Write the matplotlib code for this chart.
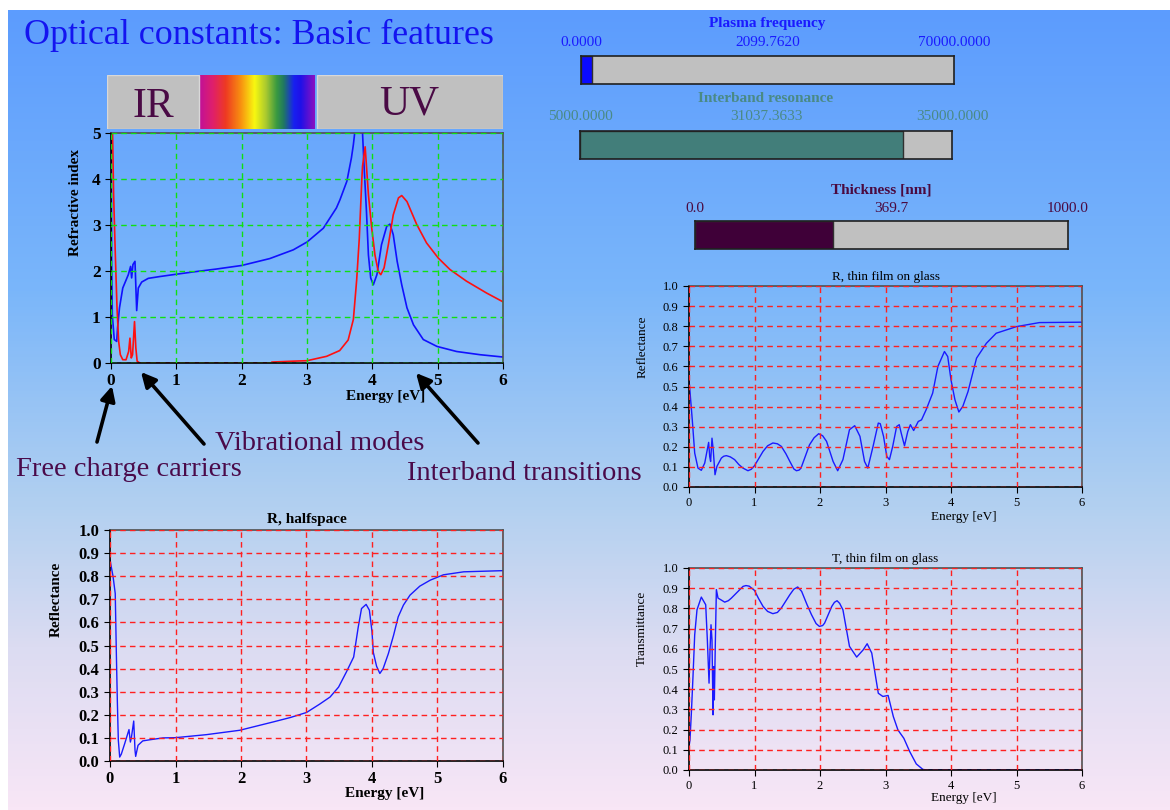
import numpy as np
import matplotlib
matplotlib.use('Agg')
import matplotlib.pyplot as plt
from matplotlib.colors import LinearSegmentedColormap
from matplotlib.ticker import FormatStrFormatter

plt.rcParams['font.family'] = ['Liberation Serif', 'DejaVu Serif']

# ---- data ----
# refractive index n (blue) and extinction k (red) vs energy [eV]
n_energy = [0.0, 0.01, 0.02, 0.05, 0.087, 0.1, 0.13, 0.18, 0.265, 0.30, 0.316, 0.336, 0.367,
            0.393, 0.418, 0.47, 0.57, 0.75, 1.0, 1.26, 1.6, 2.0, 2.43, 2.79, 3.0, 3.25, 3.45,
            3.505, 3.61, 3.68, 3.71, 3.73, 3.79, 3.85, 3.87, 3.91, 3.94, 3.975, 4.015, 4.07,
            4.14, 4.22, 4.27, 4.32, 4.38, 4.45, 4.53, 4.63, 4.78, 4.99, 5.29, 5.65, 6.0]
n_value = [6.0, 2.2, 1.05, 0.51, 0.47, 0.76, 1.2, 1.63, 1.92, 2.1, 1.85, 2.14, 2.21,
           1.14, 1.63, 1.76, 1.84, 1.88, 1.93, 1.98, 2.04, 2.12, 2.27, 2.46, 2.63, 2.93, 3.37,
           3.55, 3.95, 4.46, 4.75, 5.0, 5.6, 5.0, 4.38, 3.30, 2.35, 1.85, 1.70, 1.92,
           2.57, 2.97, 3.02, 2.79, 2.21, 1.70, 1.20, 0.83, 0.51, 0.36, 0.25, 0.18, 0.13]
k_energy = [0.012, 0.04, 0.066, 0.092, 0.117, 0.143, 0.18, 0.23, 0.27, 0.29, 0.31, 0.33, 0.36,
            0.38, 0.40, 0.44, 1.0, 2.0, 2.45, 2.46, 2.79, 3.0, 3.30, 3.5, 3.63, 3.71, 3.76,
            3.80, 3.84, 3.85, 3.89, 3.94, 3.99, 4.04, 4.09, 4.13, 4.18, 4.245, 4.32, 4.40,
            4.45, 4.53, 4.68, 4.83, 5.01, 5.19, 5.44, 5.75, 6.0]
k_value = [6.0, 3.66, 2.36, 1.2, 0.47, 0.18, 0.072, 0.07, 0.25, 0.54, 0.11, 0.18, 0.9,
           0.33, 0.04, 0.0, 0.0, 0.0, 0.0, 0.02, 0.04, 0.05, 0.145, 0.27, 0.5, 0.95, 1.8,
           2.7, 4.02, 4.28, 4.7, 3.66, 2.94, 2.35, 1.99, 1.92, 2.07, 2.57, 3.22, 3.59,
           3.64, 3.51, 3.01, 2.61, 2.28, 2.03, 1.78, 1.52, 1.33]

# R, halfspace
rh_energy = [0.0, 0.046, 0.08, 0.097, 0.112, 0.127, 0.148, 0.173, 0.224, 0.29, 0.311, 0.326,
             0.362, 0.382, 0.392, 0.428, 0.5, 0.61, 0.81, 1.0, 1.47, 1.98, 2.49, 2.75, 3.0,
             3.2, 3.36, 3.49, 3.61, 3.72, 3.79, 3.84, 3.91, 3.96, 4.0, 4.02, 4.07, 4.12,
             4.17, 4.25, 4.33, 4.40, 4.48, 4.58, 4.73, 4.89, 5.09, 5.4, 6.0]
rh_value = [0.87, 0.80, 0.725, 0.465, 0.26, 0.09, 0.017, 0.03, 0.075, 0.136, 0.082, 0.10,
            0.173, 0.046, 0.02, 0.068, 0.087, 0.092, 0.10, 0.101, 0.114, 0.133, 0.169, 0.188, 0.21,
            0.246, 0.277, 0.32, 0.386, 0.45, 0.58, 0.66, 0.678, 0.653, 0.56, 0.47, 0.41, 0.379,
            0.40, 0.465, 0.545, 0.624, 0.675, 0.718, 0.757, 0.783, 0.806, 0.819, 0.824]

# R, thin film on glass
rf_energy = [0.0, 0.015, 0.05, 0.087, 0.137, 0.188, 0.24, 0.3, 0.316, 0.33, 0.351, 0.37, 0.397,
             0.427, 0.494, 0.53, 0.57, 0.63, 0.697, 0.76, 0.824, 0.9, 0.95, 1.0, 1.13, 1.2,
             1.28, 1.35, 1.41, 1.48, 1.54, 1.6, 1.64, 1.68, 1.71, 1.84, 1.91, 1.98, 2.04, 2.1,
             2.2, 2.27, 2.35, 2.45, 2.53, 2.61, 2.68, 2.73, 2.81, 2.89, 2.92, 2.97, 3.02, 3.06,
             3.11, 3.17, 3.21, 3.24, 3.29, 3.34, 3.38, 3.43, 3.5, 3.55, 3.62, 3.72, 3.8, 3.9,
             3.95, 4.0, 4.06, 4.12, 4.18, 4.26, 4.39, 4.54, 4.69, 5.0, 5.35, 6.0]
rf_value = [0.533, 0.475, 0.334, 0.169, 0.094, 0.083, 0.119, 0.222, 0.152, 0.127, 0.243, 0.185, 0.061,
            0.103, 0.144, 0.153, 0.156, 0.15, 0.136, 0.112, 0.094, 0.081, 0.088, 0.106, 0.177, 0.205,
            0.219, 0.215, 0.202, 0.165, 0.127, 0.09, 0.081, 0.084, 0.094, 0.21, 0.245, 0.265, 0.255, 0.227,
            0.127, 0.081, 0.136, 0.285, 0.305, 0.252, 0.127, 0.094, 0.202, 0.318, 0.315, 0.252, 0.152, 0.136,
            0.202, 0.301, 0.31, 0.268, 0.205, 0.276, 0.31, 0.281, 0.326, 0.334, 0.384, 0.467, 0.6, 0.674,
            0.649, 0.533, 0.434, 0.373, 0.401, 0.475, 0.641, 0.715, 0.765, 0.798, 0.818, 0.82]

# T, thin film on glass
tf_energy = [0.0, 0.015, 0.036, 0.061, 0.087, 0.122, 0.188, 0.255, 0.28, 0.306, 0.321, 0.336,
             0.351, 0.367, 0.377, 0.387, 0.402, 0.418, 0.443, 0.5, 0.545, 0.6, 0.647, 0.825,
             0.87, 0.92, 1.0, 1.06, 1.13, 1.2, 1.28, 1.35, 1.41, 1.54, 1.6, 1.66, 1.72, 1.8,
             1.87, 1.94, 1.99, 2.04, 2.07, 2.18, 2.22, 2.26, 2.3, 2.35, 2.45, 2.56, 2.66, 2.72,
             2.79, 2.89, 2.96, 3.04, 3.12, 3.19, 3.28, 3.37, 3.47, 3.57, 3.63, 6.0]
tf_value = [0.116, 0.149, 0.281, 0.463, 0.669, 0.793, 0.856, 0.818, 0.645, 0.43, 0.595, 0.719,
            0.645, 0.273, 0.512, 0.347, 0.628, 0.893, 0.851, 0.84, 0.831, 0.838, 0.851, 0.909,
            0.913, 0.91, 0.889, 0.85, 0.81, 0.785, 0.774, 0.78, 0.802, 0.868, 0.895, 0.906, 0.884, 0.82,
            0.769, 0.725, 0.711, 0.715, 0.727, 0.81, 0.83, 0.838, 0.825, 0.793, 0.612, 0.559, 0.595, 0.625,
            0.579, 0.38, 0.364, 0.369, 0.264, 0.198, 0.157, 0.091, 0.03, 0.003, 0.0, 0.0]

# sliders
pf_min, pf_val, pf_max = 0.0, 2099.7620, 70000.0
ib_min, ib_val, ib_max = 5000.0, 31037.3633, 35000.0
th_min, th_val, th_max = 0.0, 369.7, 1000.0

# IR / visible / UV band edges [eV]
band_edges = [-0.06, 1.35, 3.12, 6.0]

W, H = 1170, 810


def box(x0, y0, x1, y1):
    return [x0 / W, 1 - y1 / H, (x1 - x0) / W, (y1 - y0) / H]


def px(x, y):
    return (x / W, 1 - y / H)


fig = plt.figure(figsize=(11.7, 8.1), dpi=100)
fig.patch.set_facecolor('white')

# background gradient
bgmap = LinearSegmentedColormap.from_list(
    'bg', [(0, '#5c9cfe'), (0.35, '#7ab6fa'), (0.62, '#b2d0f0'), (0.8, '#dcdcf2'), (1, '#f8e6f6')])
bg = fig.add_axes(box(8, 10, 1170, 810), zorder=-10)
bg.imshow(np.linspace(0, 1, 256).reshape(-1, 1), aspect='auto', cmap=bgmap)
bg.axis('off')

fig.text(*px(24, 35), 'Optical constants: Basic features', fontsize=25.8,
         color='#1414f0', ha='left', va='center')


def style_axes(ax, gridcol, tsize, bold):
    ax.set_facecolor('none')
    ax.grid(True, color=gridcol, ls=(0, (4, 3)), lw=1.0)
    ax.set_axisbelow(False)
    for s in ax.spines.values():
        s.set_color('#505050')
        s.set_linewidth(1.2)
    ax.spines['left'].set_color('black')
    ax.spines['bottom'].set_color('black')
    ax.tick_params(direction='out', length=4, labelsize=tsize, colors='black')
    if bold:
        for lbl in ax.get_xticklabels() + ax.get_yticklabels():
            lbl.set_fontweight('bold')


# ---- optical constants ----
ax = fig.add_axes(box(111, 133, 503, 363))
ax.plot(n_energy, n_value, color='#1010ff', lw=1.2)
ax.plot(k_energy, k_value, color='#ff1010', lw=1.2)
ax.set_xlim(0, 6)
ax.set_ylim(0, 5)
ax.set_xticks(range(7))
ax.set_yticks(range(6))
style_axes(ax, '#10e010', 12.5, True)
ax.set_xlabel('Energy [eV]', fontsize=11, fontweight='bold')
ax.set_ylabel('Refractive index', fontsize=11, fontweight='bold')
ax.xaxis.set_label_coords(0.70, -0.117)
ax.yaxis.set_label_coords(-0.074, 0.70)

# band bar
spec = LinearSegmentedColormap.from_list(
    'spec', [(0, '#c0109a'), (0.12, '#e0206a'), (0.23, '#ee3a22'), (0.36, '#f89010'),
             (0.48, '#f8f810'), (0.58, '#a8c830'), (0.67, '#3a9a40'), (0.73, '#207a60'),
             (0.82, '#1820f0'), (0.88, '#2010e8'), (1, '#8a10c0')])
band = fig.add_axes(box(107, 75, 503, 129))
band.set_xlim(band_edges[0], band_edges[-1])
band.set_ylim(0, 1)
band.axvspan(band_edges[0], band_edges[1], color='#c0c0c0', ec='#d8d8d8', lw=1)
band.axvspan(band_edges[2] + 0.03, band_edges[3], color='#c0c0c0', ec='#d8d8d8', lw=1)
band.imshow(np.linspace(0, 1, 256).reshape(1, -1), cmap=spec, aspect='auto',
            extent=[band_edges[1], band_edges[2], 0, 1])
band.text((band_edges[0] + band_edges[1]) / 2, 0.42, 'IR', fontsize=30, color='#4a0a45',
          ha='center', va='center')
band.text((band_edges[2] + band_edges[3]) / 2, 0.45, 'UV', fontsize=30, color='#4a0a45',
          ha='center', va='center')
band.axis('off')

# annotations
txtcol = '#4a0a4a'
arrows = [((97, 442), (112, 386)), ((204, 444), (141, 372)), ((478, 443), (416, 373))]
for tail, head in arrows:
    ax.annotate('', xy=px(*head), xycoords='figure fraction', xytext=px(*tail),
                textcoords='figure fraction', annotation_clip=False,
                arrowprops=dict(arrowstyle='-|>', color='black', lw=2.6, mutation_scale=22,
                                shrinkA=0, shrinkB=0))
fig.text(*px(16, 470), 'Free charge carriers', fontsize=20.5, color=txtcol, va='center')
fig.text(*px(215, 443), 'Vibrational modes', fontsize=20.5, color=txtcol, va='center')
fig.text(*px(407, 473), 'Interband transitions', fontsize=20.5, color=txtcol, va='center')


# ---- sliders ----
def slider(rect, vmin, val, vmax, title, labels, tcol, fcol, title_y, lab_y, mid_dx=0):
    s = fig.add_axes(box(*rect))
    s.set_facecolor('#c0c0c0')
    s.set_xlim(vmin, vmax)
    s.set_ylim(0, 1)
    s.barh(0.5, val - vmin, left=vmin, height=1, color=fcol, ec='#303030', lw=1)
    s.set_xticks([])
    s.set_yticks([])
    for sp in s.spines.values():
        sp.set_color('#202020')
        sp.set_linewidth(1.2)
    x0, x1 = rect[0], rect[2]
    fig.text(*px((x0 + x1) / 2, title_y), title, fontsize=11, fontweight='bold', color=tcol,
             ha='center', va='center')
    for xx, lab in zip([x0, (x0 + x1) / 2 + mid_dx, x1], labels):
        fig.text(*px(xx, lab_y), lab, fontsize=11, color=tcol, ha='center', va='center')


slider((581, 56, 954, 84), pf_min, pf_val, pf_max, 'Plasma frequency',
       ['%.4f' % pf_min, '%.4f' % pf_val, '%.4f' % pf_max], '#1a1aff', '#0a0aff', 23, 42)
slider((580, 131, 952, 159), ib_min, ib_val, ib_max, 'Interband resonance',
       ['%.4f' % ib_min, '%.4f' % ib_val, '%.4f' % ib_max], '#4a8a85', '#427e7a', 99, 117)
slider((695, 221, 1068, 249), th_min, th_val, th_max, 'Thickness [nm]',
       ['%.1f' % th_min, '%.1f' % th_val, '%.1f' % th_max], '#4a0a40', '#3f0038', 190, 208, 10)


# ---- reflectance / transmittance ----
def rt_axes(rect, xe, yv, title, ylabel, tsize, bold, pad):
    a = fig.add_axes(box(*rect))
    a.plot(xe, yv, color='#1a1aff', lw=1.0)
    a.set_xlim(0, 6)
    a.set_ylim(0, 1)
    a.set_xticks(range(7))
    a.set_yticks(np.arange(11) / 10)
    a.yaxis.set_major_formatter(FormatStrFormatter('%.1f'))
    style_axes(a, '#ff2020', tsize, bold)
    w = 'bold' if bold else 'normal'
    fs = tsize - 1 if bold else tsize + 0.5
    a.set_xlabel('Energy [eV]', fontsize=fs, fontweight=w)
    a.set_ylabel(ylabel, fontsize=fs, fontweight=w)
    a.set_title(title, fontsize=fs, fontweight=w, pad=pad)
    return a


a1 = rt_axes((689, 286, 1082, 487), rf_energy, rf_value, 'R, thin film on glass', 'Reflectance',
             9, False, 4)
a1.xaxis.set_label_coords(0.70, -0.118)
a1.yaxis.set_label_coords(-0.104, 0.70)

a2 = rt_axes((110, 530, 503, 761), rh_energy, rh_value, 'R, halfspace', 'Reflectance',
             12, True, 5)
a2.xaxis.set_label_coords(0.70, -0.114)
a2.yaxis.set_label_coords(-0.12, 0.70)

a3 = rt_axes((689, 568, 1082, 770), tf_energy, tf_value, 'T, thin film on glass', 'Transmittance',
             9, False, 4)
a3.xaxis.set_label_coords(0.70, -0.109)
a3.yaxis.set_label_coords(-0.104, 0.70)

fig.savefig('out.png', dpi=100)
